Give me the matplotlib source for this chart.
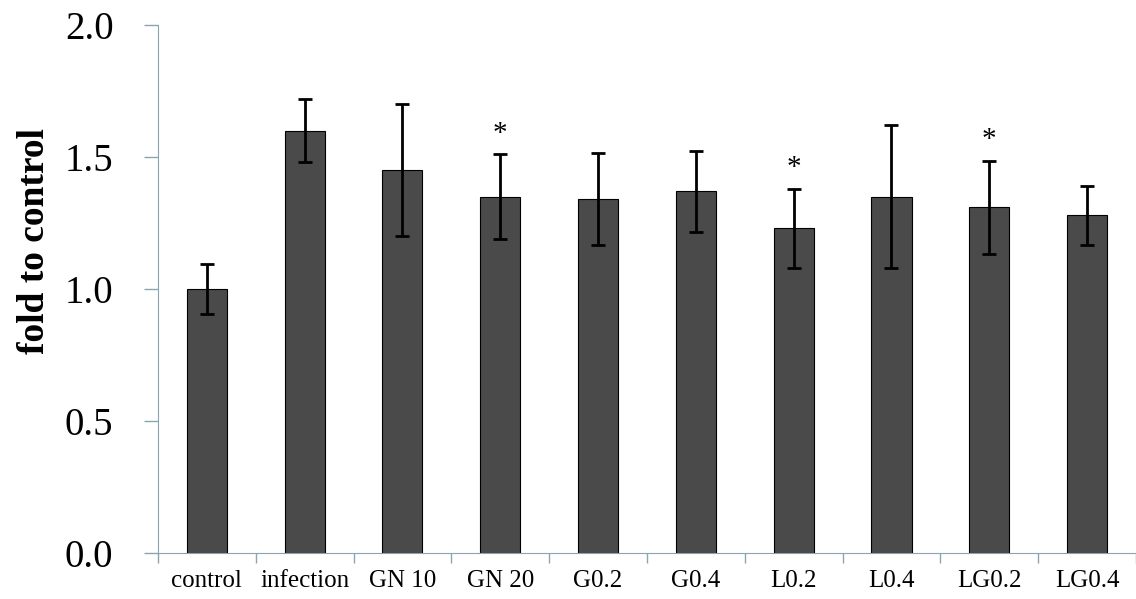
import matplotlib.pyplot as plt
import numpy as np

plt.rc("font", family="Liberation Serif")

groups = ["control", "infection", "GN 10", "GN 20", "G0.2", "G0.4",
          "L0.2", "L0.4", "LG0.2", "LG0.4"]
fold = [1.00, 1.60, 1.45, 1.35, 1.34, 1.37, 1.23, 1.35, 1.31, 1.28]
err = [0.095, 0.12, 0.25, 0.16, 0.175, 0.153, 0.15, 0.27, 0.177, 0.112]
signif = [False, False, False, True, False, False, True, False, True, False]

axcol = '#8aa4b4'

fig = plt.figure(figsize=(11.36, 5.99), dpi=100)
ax = fig.add_axes([0.139, 0.077, 0.861, 0.881])

x = np.arange(len(groups))
ax.bar(x, fold, width=0.41, color='#4a4a4a', edgecolor='black', linewidth=0.8,
       zorder=2)
ax.errorbar(x, fold, yerr=err, fmt='none', ecolor='black', elinewidth=2,
            capsize=5, capthick=2, zorder=3)

for xi, f, e, s in zip(x, fold, err, signif):
    if s:
        ax.text(xi, f + e + 0.03, "*", ha='center', va='bottom', fontsize=21)

ax.set_xlim(-0.5, len(groups) - 0.5)
ax.set_ylim(0, 2.0)
ax.set_yticks([0.0, 0.5, 1.0, 1.5, 2.0])
ax.set_yticklabels(["0.0", "0.5", "1.0", "1.5", "2.0"])
ax.set_xticks(x)
ax.set_xticklabels(groups, fontsize=18)
ax.set_xticks(np.arange(len(groups) + 1) - 0.5, minor=True)
ax.tick_params(axis='x', which='major', length=0, pad=12)
ax.tick_params(axis='x', which='minor', length=7, color=axcol, width=1)
ax.tick_params(axis='y', labelsize=28, length=10, color=axcol, width=1, pad=22)

ax.set_ylabel("fold to control", fontsize=27, fontweight='bold')
ax.yaxis.set_label_coords(-0.108, 0.59)

ax.spines['top'].set_visible(False)
ax.spines['right'].set_visible(False)
ax.spines['left'].set_color(axcol)
ax.spines['bottom'].set_color(axcol)

fig.savefig("out.png", dpi=100)
